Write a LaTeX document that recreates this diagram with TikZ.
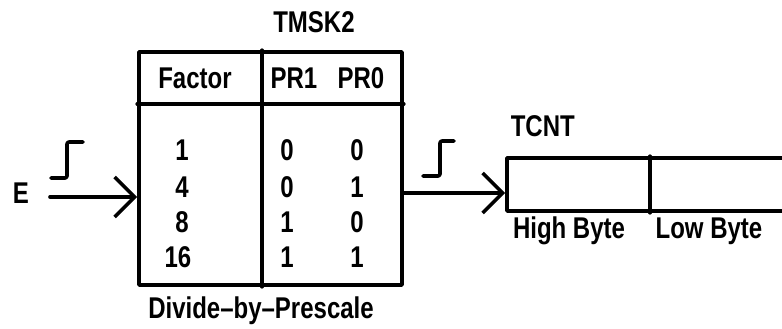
\documentclass[tikz,border=0pt]{standalone}
\usepackage{fontspec}
\setmainfont[FakeStretch=0.8]{Liberation Sans}
\usetikzlibrary{arrows.meta}
\begin{document}
\begin{tikzpicture}[x=1pt,y=-1pt,line width=3.6pt,line cap=round,line join=round,
  lbl/.style={font=\bfseries\fontsize{30}{32}\selectfont,inner sep=0pt},
  barb/.style={-{Straight Barb[length=20pt,width=40pt,line width=3.6pt]}}]
\useasboundingbox (0,0) rectangle (782,329);
\clip (0,0) rectangle (782,329);
% prescaler table
\node[draw,minimum width=263pt,minimum height=233pt,inner sep=0pt] (box) at (270.5,168.5) {};
\draw (box.west |- 0,104) -- (box.east |- 0,104);
\draw (262,0 |- box.north) -- (262,0 |- box.south);
\node[lbl] (tmsk) at (314,22) {TMSK2};
\node[lbl] (fac) at (195,78) {Factor};
\node[lbl] (pr1) at (294,78) {PR1};
\node[lbl] (pr0) at (361,78) {PR0};
\node[lbl] (f1) at (182,150) {1};
\node[lbl] (f4) at (182,187) {4};
\node[lbl] (f8) at (182,222) {8};
\node[lbl] (f16) at (178,257) {16};
\node[lbl] (a1) at (287,150) {0};
\node[lbl] (b1) at (357,150) {0};
\node[lbl] (a2) at (287,187) {0};
\node[lbl] (b2) at (357,187) {1};
\node[lbl] (a3) at (287,222) {1};
\node[lbl] (b3) at (357,222) {0};
\node[lbl] (a4) at (287,257) {1};
\node[lbl] (b4) at (357,257) {1};
\node[lbl] (div) at (261,311) {Divide\textendash by\textendash Prescale};
% input
\node[lbl] (e) at (21,193) {E};
\coordinate (ein) at (50,197);
\draw[barb] (ein) -- (box.west |- ein);
\draw[rounded corners=2pt] (51,178) -- (67,178) -- (67,142) -- (83,142);
% TCNT register
\node[draw,minimum width=300pt,minimum height=53pt,inner sep=0pt] (reg) at (657,184.5) {};
\draw (650,0 |- reg.north) -- (650,0 |- reg.south);
\node[lbl,anchor=west] (tcnt) at (509,126) {TCNT};
\node[lbl] (hb) at (569,231) {High Byte};
\node[lbl] (lb) at (709,231) {Low Byte};
\coordinate (out) at (box.east |- 0,193);
\draw[barb] (out) -- (reg.west |- out);
\draw[rounded corners=2pt] (423,176) -- (440,176) -- (440,141) -- (454,141);
\end{tikzpicture}
\end{document}
